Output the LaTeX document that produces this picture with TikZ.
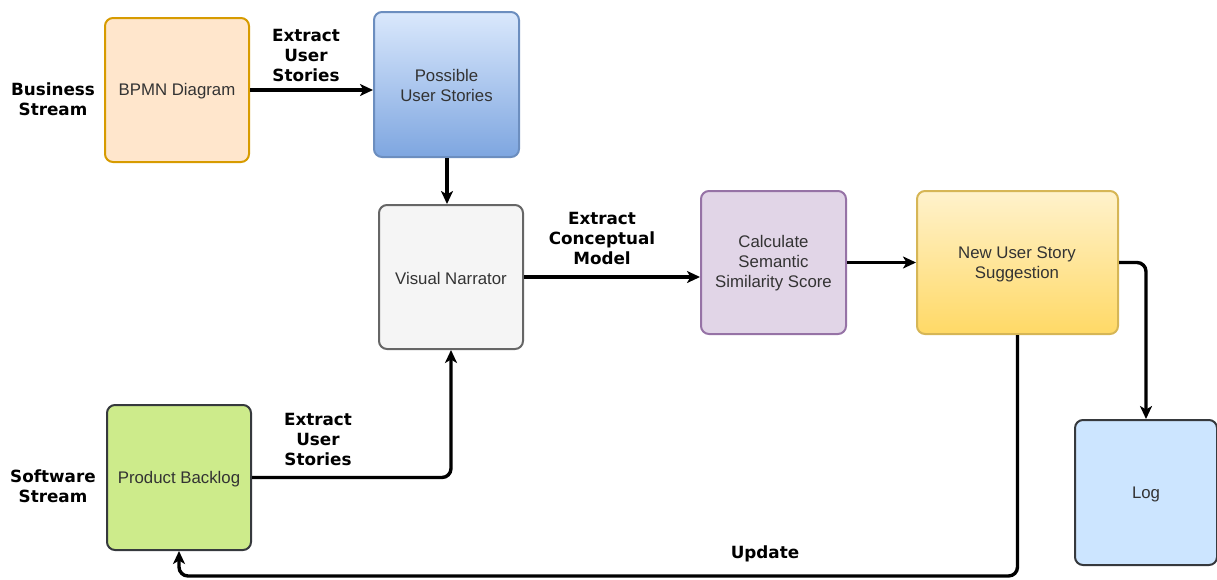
\documentclass[tikz,border=0pt]{standalone}
\usepackage{fontspec}
\setmainfont{Liberation Sans}
\newfontfamily\lblfont{DejaVu Sans}
\usetikzlibrary{arrows.meta}
\definecolor{txtgray}{HTML}{333333}
\definecolor{orfill}{HTML}{FFE6CC}\definecolor{ordraw}{HTML}{D79B00}
\definecolor{bltop}{HTML}{DAE8FC}\definecolor{blbot}{HTML}{7EA6E0}\definecolor{bldraw}{HTML}{6C8EBF}
\definecolor{gyfill}{HTML}{F5F5F5}\definecolor{gydraw}{HTML}{666666}
\definecolor{pufill}{HTML}{E1D5E7}\definecolor{pudraw}{HTML}{9673A6}
\definecolor{yetop}{HTML}{FFF2CC}\definecolor{yebot}{HTML}{FFD966}\definecolor{yedraw}{HTML}{D6B656}
\definecolor{lbfill}{HTML}{CCE5FF}\definecolor{dkdraw}{HTML}{36393D}
\definecolor{grfill}{HTML}{CDEB8B}
\begin{document}
\begin{tikzpicture}[x=1pt,y=-1pt,
  box/.style={draw, rounded corners=8pt, line width=2pt, text=txtgray, align=center,
    inner sep=0pt, font=\fontsize{16.8}{20}\selectfont},
  boxtxt/.style={text=txtgray, align=center, inner sep=0pt, font=\fontsize{16.8}{20}\selectfont},
  lbl/.style={font=\lblfont\bfseries\fontsize{16.8}{20}\selectfont, align=center, text=black},
  conn/.style={draw=black, line width=3.4pt, rounded corners=9pt, -{Stealth[length=13pt,width=12pt,inset=3.5pt]}}]
\useasboundingbox (0,0) rectangle (1217,579);
\node[box, fill=orfill, draw=ordraw, minimum width=144pt, minimum height=144pt] (bpmn) at (177,90) {};
\node[boxtxt] (t1) at (177,91.5) {BPMN Diagram};
\node[box, top color=bltop, bottom color=blbot, draw=bldraw, minimum width=145pt, minimum height=145pt] (poss) at (446.5,84.5) {};
\node[boxtxt] (t2) at (446.5,85.5) {Possible\\User Stories};
\node[box, fill=gyfill, draw=gydraw, minimum width=144pt, minimum height=144pt] (vn) at (451,277) {};
\node[boxtxt] (t3) at (451,278.5) {Visual Narrator};
\node[box, fill=pufill, draw=pudraw, minimum width=145pt, minimum height=143pt] (calc) at (773.5,262.5) {};
\node[boxtxt] (t4) at (773.5,263.5) {Calculate\\Semantic\\Similarity Score};
\node[box, top color=yetop, bottom color=yebot, draw=yedraw, minimum width=201pt, minimum height=143pt] (nus) at (1017.5,262.5) {};
\node[boxtxt] (t5) at (1017,264) {New User Story\\Suggestion};
\node[box, fill=lbfill, draw=dkdraw, minimum width=142pt, minimum height=145pt] (log) at (1146,492.5) {};
\node[boxtxt] (t6) at (1146,494) {Log};
\node[box, fill=grfill, draw=dkdraw, minimum width=144pt, minimum height=145pt] (pb) at (179,477.5) {};
\node[boxtxt] (t7) at (179,479.5) {Product Backlog};
\node[lbl] (bs) at (53,99) {Business\\Stream};
\node[lbl] (ss) at (53,486) {Software\\Stream};
\node[lbl] (l1) at (306,55) {Extract\\User\\Stories};
\node[lbl] (l2) at (602,238) {Extract\\Conceptual\\Model};
\node[lbl] (l3) at (318,439) {Extract\\User\\Stories};
\node[lbl] (l4) at (765,554) {Update};
\coordinate (bot) at (0,576);
\draw[conn] (bpmn.east) -- (bpmn.east -| poss.west);
\draw[conn] (poss.south -| 447,0) -- (vn.north -| 447,0);
\draw[conn] (vn.east) -- (vn.east -| calc.west);
\draw[conn] (calc.east) -- (calc.east -| nus.west);
\draw[conn] (nus.east) -| (log.north);
\draw[conn] (pb.east) -| (vn.south);
\draw[conn] (nus.south) -- (nus.south |- bot) -| (pb.south);
\end{tikzpicture}
\end{document}
